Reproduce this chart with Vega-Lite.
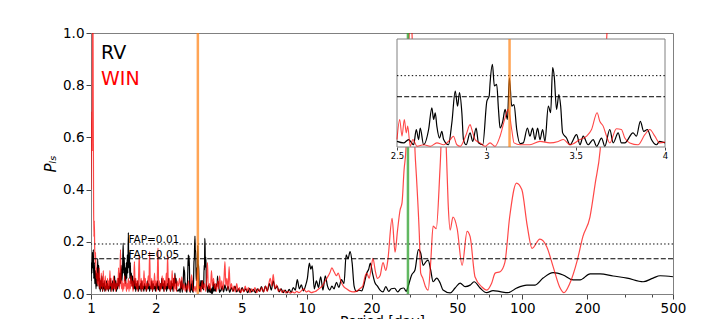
{
"$schema": "https://vega.github.io/schema/vega-lite/v6.json",
"width": 582, "height": 261,
"autosize": "none",
"padding": {"left": 91, "top": 33, "right": 28, "bottom": 25},
"config": {
  "font": "DejaVu Sans",
  "view": {"stroke": "#808080", "strokeWidth": 1},
  "axis": {"grid": false, "domainColor": "#808080", "tickColor": "#444", "labelColor": "black", "titleColor": "black", "labelFont": "DejaVu Sans", "titleFont": "DejaVu Sans"}
},
"datasets": {
"rv": [
{"p":1.000,"v":0.05},{"p":1.005,"v":0.12},{"p":1.010,"v":0.08},{"p":1.015,"v":0.16},{"p":1.020,"v":0.10},{"p":1.025,"v":0.17},{"p":1.030,"v":0.06},{"p":1.036,"v":0.12},{"p":1.042,"v":0.04},{"p":1.048,"v":0.09},{"p":1.055,"v":0.02},{"p":1.062,"v":0.08},{"p":1.068,"v":0.03},{"p":1.074,"v":0.137},{"p":1.080,"v":0.05},{"p":1.086,"v":0.11},{"p":1.092,"v":0.02},{"p":1.098,"v":0.06},{"p":1.104,"v":0.01},{"p":1.110,"v":0.05},{"p":1.117,"v":0.02},{"p":1.124,"v":0.07},{"p":1.131,"v":0.01},{"p":1.138,"v":0.04},{"p":1.145,"v":0.02},{"p":1.152,"v":0.05},{"p":1.159,"v":0.01},{"p":1.166,"v":0.03},{"p":1.173,"v":0.015},{"p":1.180,"v":0.05},{"p":1.188,"v":0.02},{"p":1.196,"v":0.04},{"p":1.204,"v":0.01},{"p":1.212,"v":0.03},{"p":1.220,"v":0.02},{"p":1.228,"v":0.06},{"p":1.236,"v":0.01},{"p":1.244,"v":0.04},{"p":1.252,"v":0.02},{"p":1.260,"v":0.05},{"p":1.268,"v":0.01},{"p":1.277,"v":0.03},{"p":1.286,"v":0.07},{"p":1.295,"v":0.02},{"p":1.304,"v":0.05},{"p":1.313,"v":0.01},{"p":1.322,"v":0.04},{"p":1.331,"v":0.02},{"p":1.340,"v":0.06},{"p":1.350,"v":0.03},{"p":1.360,"v":0.08},{"p":1.370,"v":0.04},{"p":1.380,"v":0.11},{"p":1.390,"v":0.05},{"p":1.400,"v":0.09},{"p":1.410,"v":0.195},{"p":1.418,"v":0.08},{"p":1.426,"v":0.14},{"p":1.434,"v":0.05},{"p":1.442,"v":0.10},{"p":1.450,"v":0.04},{"p":1.458,"v":0.12},{"p":1.466,"v":0.06},{"p":1.474,"v":0.15},{"p":1.482,"v":0.08},{"p":1.490,"v":0.235},{"p":1.498,"v":0.10},{"p":1.506,"v":0.16},{"p":1.514,"v":0.06},{"p":1.522,"v":0.12},{"p":1.530,"v":0.04},{"p":1.540,"v":0.08},{"p":1.550,"v":0.03},{"p":1.560,"v":0.07},{"p":1.570,"v":0.02},{"p":1.580,"v":0.05},{"p":1.590,"v":0.02},{"p":1.600,"v":0.06},{"p":1.612,"v":0.01},{"p":1.624,"v":0.04},{"p":1.636,"v":0.02},{"p":1.648,"v":0.05},{"p":1.660,"v":0.01},{"p":1.672,"v":0.03},{"p":1.684,"v":0.02},{"p":1.696,"v":0.04},{"p":1.708,"v":0.01},{"p":1.720,"v":0.05},{"p":1.732,"v":0.02},{"p":1.745,"v":0.03},{"p":1.758,"v":0.01},{"p":1.771,"v":0.04},{"p":1.784,"v":0.02},{"p":1.797,"v":0.03},{"p":1.810,"v":0.01},{"p":1.825,"v":0.05},{"p":1.840,"v":0.02},{"p":1.855,"v":0.04},{"p":1.870,"v":0.01},{"p":1.885,"v":0.03},{"p":1.900,"v":0.02},{"p":1.915,"v":0.05},{"p":1.930,"v":0.01},{"p":1.945,"v":0.04},{"p":1.960,"v":0.02},{"p":1.975,"v":0.03},{"p":1.990,"v":0.01},{"p":2.005,"v":0.04},{"p":2.020,"v":0.02},{"p":2.035,"v":0.05},{"p":2.050,"v":0.015},{"p":2.066,"v":0.03},{"p":2.082,"v":0.01},{"p":2.098,"v":0.04},{"p":2.114,"v":0.02},{"p":2.130,"v":0.06},{"p":2.146,"v":0.02},{"p":2.162,"v":0.04},{"p":2.178,"v":0.01},{"p":2.194,"v":0.05},{"p":2.210,"v":0.02},{"p":2.226,"v":0.03},{"p":2.242,"v":0.01},{"p":2.258,"v":0.04},{"p":2.274,"v":0.02},{"p":2.290,"v":0.06},{"p":2.306,"v":0.02},{"p":2.322,"v":0.03},{"p":2.338,"v":0.01},{"p":2.354,"v":0.05},{"p":2.370,"v":0.02},{"p":2.386,"v":0.04},{"p":2.402,"v":0.01},{"p":2.418,"v":0.06},{"p":2.434,"v":0.03},{"p":2.450,"v":0.08},{"p":2.466,"v":0.04},{"p":2.482,"v":0.06},
{"p":2.500,"v":0.015},{"p":2.537,"v":0.011},{"p":2.565,"v":0.020},{"p":2.593,"v":0.006},{"p":2.608,"v":0.047},{"p":2.621,"v":0.020},{"p":2.630,"v":0.051},{"p":2.649,"v":0.006},{"p":2.677,"v":0.047},{"p":2.695,"v":0.105},{"p":2.705,"v":0.074},{"p":2.714,"v":0.092},{"p":2.723,"v":0.056},{"p":2.738,"v":0.024},{"p":2.751,"v":0.042},{"p":2.761,"v":0.020},{"p":2.788,"v":0.006},{"p":2.807,"v":0.065},{"p":2.826,"v":0.150},{"p":2.839,"v":0.110},{"p":2.850,"v":0.146},{"p":2.863,"v":0.092},{"p":2.872,"v":0.020},{"p":2.887,"v":0.006},{"p":2.909,"v":0.038},{"p":2.924,"v":0.015},{"p":2.943,"v":0.051},{"p":2.956,"v":0.011},{"p":2.980,"v":0.006},{"p":3.003,"v":0.123},{"p":3.016,"v":0.137},{"p":3.021,"v":0.172},{"p":3.034,"v":0.222},{"p":3.045,"v":0.164},{"p":3.058,"v":0.168},{"p":3.068,"v":0.101},{"p":3.077,"v":0.051},{"p":3.092,"v":0.069},{"p":3.105,"v":0.101},{"p":3.118,"v":0.074},{"p":3.129,"v":0.186},{"p":3.142,"v":0.110},{"p":3.155,"v":0.114},{"p":3.170,"v":0.047},{"p":3.189,"v":0.009},{"p":3.207,"v":0.011},{"p":3.230,"v":0.051},{"p":3.244,"v":0.029},{"p":3.259,"v":0.051},{"p":3.272,"v":0.020},{"p":3.287,"v":0.051},{"p":3.300,"v":0.020},{"p":3.315,"v":0.047},{"p":3.328,"v":0.015},{"p":3.347,"v":0.110},{"p":3.360,"v":0.092},{"p":3.371,"v":0.213},{"p":3.380,"v":0.190},{"p":3.393,"v":0.101},{"p":3.406,"v":0.141},{"p":3.416,"v":0.110},{"p":3.427,"v":0.038},{"p":3.449,"v":0.024},{"p":3.468,"v":0.006},{"p":3.505,"v":0.033},{"p":3.524,"v":0.006},{"p":3.542,"v":0.029},{"p":3.570,"v":0.006},{"p":3.598,"v":0.020},{"p":3.617,"v":0.002},{"p":3.645,"v":0.024},{"p":3.663,"v":0.002},{"p":3.691,"v":0.047},{"p":3.710,"v":0.011},{"p":3.738,"v":0.038},{"p":3.756,"v":0.011},{"p":3.775,"v":0.011},{"p":3.821,"v":0.038},{"p":3.840,"v":0.029},{"p":3.862,"v":0.069},{"p":3.881,"v":0.042},{"p":3.901,"v":0.047},{"p":3.924,"v":0.020},{"p":3.952,"v":0.006},{"p":3.970,"v":0.015},{"p":4.000,"v":0.011},
{"p":4.06,"v":0.03},{"p":4.12,"v":0.008},{"p":4.18,"v":0.035},{"p":4.25,"v":0.012},{"p":4.32,"v":0.03},{"p":4.40,"v":0.006},{"p":4.48,"v":0.025},{"p":4.56,"v":0.01},{"p":4.65,"v":0.03},{"p":4.74,"v":0.008},{"p":4.83,"v":0.02},{"p":4.92,"v":0.005},{"p":5.02,"v":0.025},{"p":5.12,"v":0.01},{"p":5.22,"v":0.02},{"p":5.33,"v":0.005},{"p":5.44,"v":0.022},{"p":5.55,"v":0.008},{"p":5.67,"v":0.018},{"p":5.79,"v":0.005},{"p":5.91,"v":0.02},{"p":6.04,"v":0.01},{"p":6.17,"v":0.028},{"p":6.30,"v":0.008},{"p":6.44,"v":0.03},{"p":6.58,"v":0.012},{"p":6.72,"v":0.04},{"p":6.86,"v":0.015},{"p":7.00,"v":0.05},{"p":7.15,"v":0.02},{"p":7.30,"v":0.03},{"p":7.46,"v":0.008},{"p":7.62,"v":0.02},{"p":7.78,"v":0.005},{"p":7.95,"v":0.015},{"p":8.12,"v":0.004},{"p":8.30,"v":0.018},{"p":8.48,"v":0.006},{"p":8.67,"v":0.025},{"p":8.86,"v":0.015},{"p":9.05,"v":0.055},{"p":9.25,"v":0.02},{"p":9.45,"v":0.035},{"p":9.66,"v":0.012},{"p":9.87,"v":0.03},{"p":10.08,"v":0.06},{"p":10.30,"v":0.118},{"p":10.45,"v":0.095},{"p":10.62,"v":0.108},{"p":10.85,"v":0.02},{"p":11.10,"v":0.05},{"p":11.35,"v":0.025},{"p":11.62,"v":0.066},{"p":11.90,"v":0.015},{"p":12.20,"v":0.07},{"p":12.50,"v":0.03},{"p":12.80,"v":0.015},{"p":13.10,"v":0.03},{"p":13.40,"v":0.02},{"p":13.75,"v":0.045},{"p":14.10,"v":0.025},{"p":14.50,"v":0.055},{"p":14.90,"v":0.04},{"p":15.25,"v":0.15},{"p":15.55,"v":0.135},{"p":15.90,"v":0.162},{"p":16.25,"v":0.12},{"p":16.60,"v":0.03},{"p":17.00,"v":0.01},{"p":17.50,"v":0.015},{"p":18.00,"v":0.012},{"p":18.50,"v":0.04},{"p":19.00,"v":0.08},{"p":19.40,"v":0.095},{"p":19.75,"v":0.118},{"p":20.20,"v":0.08},{"p":20.70,"v":0.045},{"p":21.30,"v":0.03},{"p":21.90,"v":0.015},{"p":22.60,"v":0.008},{"p":23.30,"v":0.028},{"p":24.00,"v":0.01},{"p":24.70,"v":0.02},{"p":25.60,"v":0.022},{"p":26.40,"v":0.008},{"p":27.30,"v":0.02},{"p":28.20,"v":0.023},{"p":29.00,"v":0.01},{"p":29.50,"v":0.027},{"p":30.70,"v":0.073},{"p":31.80,"v":0.092},{"p":33.00,"v":0.17},{"p":33.80,"v":0.157},{"p":34.70,"v":0.11},{"p":35.80,"v":0.124},{"p":36.60,"v":0.13},{"p":37.60,"v":0.092},{"p":38.60,"v":0.047},{"p":40.10,"v":0.061},{"p":41.60,"v":0.042},{"p":42.90,"v":0.015},{"p":46.30,"v":0.004},{"p":48.80,"v":0.023},{"p":51.50,"v":0.042},{"p":54.30,"v":0.028},{"p":57.30,"v":0.034},{"p":59.80,"v":0.047},{"p":63.70,"v":0.023},{"p":68.40,"v":0.005},{"p":73.20,"v":0.013},{"p":78.90,"v":0.009},{"p":85.90,"v":0.005},{"p":94.30,"v":0.023},{"p":105.0,"v":0.034},{"p":114.7,"v":0.034},{"p":124.9,"v":0.061},{"p":139.0,"v":0.082},{"p":154.6,"v":0.073},{"p":172.0,"v":0.054},{"p":185.4,"v":0.054},{"p":206.3,"v":0.077},{"p":229.6,"v":0.077},{"p":263.8,"v":0.069},{"p":306.3,"v":0.061},{"p":363.4,"v":0.047},{"p":404.4,"v":0.061},{"p":435.7,"v":0.070},{"p":500.0,"v":0.066}
],
"win": [
{"p":1.000,"v":0.40},{"p":1.004,"v":0.55},{"p":1.008,"v":0.70},{"p":1.012,"v":0.55},{"p":1.016,"v":1.05},{"p":1.020,"v":1.2},{"p":1.024,"v":0.75},{"p":1.028,"v":0.35},{"p":1.032,"v":0.22},{"p":1.036,"v":0.28},{"p":1.040,"v":0.18},{"p":1.045,"v":0.12},{"p":1.050,"v":0.16},{"p":1.056,"v":0.06},{"p":1.062,"v":0.10},{"p":1.068,"v":0.04},{"p":1.074,"v":0.08},{"p":1.080,"v":0.03},{"p":1.086,"v":0.06},{"p":1.092,"v":0.10},{"p":1.098,"v":0.02},{"p":1.104,"v":0.05},{"p":1.110,"v":0.02},{"p":1.116,"v":0.08},{"p":1.122,"v":0.03},{"p":1.128,"v":0.06},{"p":1.134,"v":0.01},{"p":1.140,"v":0.09},{"p":1.146,"v":0.03},{"p":1.152,"v":0.05},{"p":1.158,"v":0.02},{"p":1.165,"v":0.07},{"p":1.172,"v":0.01},{"p":1.179,"v":0.04},{"p":1.186,"v":0.02},{"p":1.193,"v":0.06},{"p":1.200,"v":0.015},{"p":1.208,"v":0.05},{"p":1.216,"v":0.02},{"p":1.224,"v":0.09},{"p":1.232,"v":0.03},{"p":1.240,"v":0.06},{"p":1.248,"v":0.01},{"p":1.256,"v":0.04},{"p":1.264,"v":0.02},{"p":1.272,"v":0.07},{"p":1.280,"v":0.02},{"p":1.289,"v":0.05},{"p":1.298,"v":0.01},{"p":1.307,"v":0.04},{"p":1.316,"v":0.02},{"p":1.325,"v":0.06},{"p":1.334,"v":0.03},{"p":1.343,"v":0.10},{"p":1.352,"v":0.02},{"p":1.361,"v":0.05},{"p":1.370,"v":0.17},{"p":1.378,"v":0.06},{"p":1.386,"v":0.02},{"p":1.395,"v":0.05},{"p":1.404,"v":0.01},{"p":1.413,"v":0.04},{"p":1.422,"v":0.02},{"p":1.431,"v":0.07},{"p":1.440,"v":0.03},{"p":1.450,"v":0.05},{"p":1.460,"v":0.01},{"p":1.470,"v":0.04},{"p":1.480,"v":0.02},{"p":1.490,"v":0.06},{"p":1.500,"v":0.01},{"p":1.511,"v":0.05},{"p":1.522,"v":0.02},{"p":1.533,"v":0.07},{"p":1.544,"v":0.03},{"p":1.555,"v":0.05},{"p":1.566,"v":0.01},{"p":1.578,"v":0.04},{"p":1.590,"v":0.124},{"p":1.602,"v":0.03},{"p":1.614,"v":0.06},{"p":1.626,"v":0.02},{"p":1.638,"v":0.05},{"p":1.650,"v":0.01},{"p":1.662,"v":0.07},{"p":1.674,"v":0.15},{"p":1.686,"v":0.04},{"p":1.698,"v":0.02},{"p":1.710,"v":0.06},{"p":1.722,"v":0.01},{"p":1.735,"v":0.05},{"p":1.748,"v":0.02},{"p":1.761,"v":0.09},{"p":1.774,"v":0.03},{"p":1.787,"v":0.06},{"p":1.800,"v":0.01},{"p":1.814,"v":0.04},{"p":1.828,"v":0.02},{"p":1.842,"v":0.07},{"p":1.856,"v":0.03},{"p":1.870,"v":0.162},{"p":1.884,"v":0.04},{"p":1.898,"v":0.02},{"p":1.912,"v":0.06},{"p":1.926,"v":0.01},{"p":1.940,"v":0.05},{"p":1.955,"v":0.02},{"p":1.970,"v":0.08},{"p":1.985,"v":0.03},{"p":2.000,"v":0.05},{"p":2.015,"v":0.01},{"p":2.030,"v":0.06},{"p":2.045,"v":0.176},{"p":2.060,"v":0.03},{"p":2.075,"v":0.05},{"p":2.090,"v":0.01},{"p":2.106,"v":0.04},{"p":2.122,"v":0.02},{"p":2.138,"v":0.07},{"p":2.154,"v":0.03},{"p":2.170,"v":0.06},{"p":2.186,"v":0.01},{"p":2.202,"v":0.05},{"p":2.218,"v":0.02},{"p":2.234,"v":0.08},{"p":2.250,"v":0.03},{"p":2.266,"v":0.15},{"p":2.282,"v":0.04},{"p":2.298,"v":0.02},{"p":2.314,"v":0.06},{"p":2.330,"v":0.01},{"p":2.346,"v":0.05},{"p":2.362,"v":0.02},{"p":2.378,"v":0.09},{"p":2.394,"v":0.03},{"p":2.410,"v":0.06},{"p":2.426,"v":0.01},{"p":2.442,"v":0.073},{"p":2.458,"v":0.02},{"p":2.474,"v":0.04},{"p":2.490,"v":0.01},
{"p":2.506,"v":0.05},{"p":2.540,"v":0.03},{"p":2.575,"v":0.06},{"p":2.610,"v":0.02},{"p":2.635,"v":0.066},{"p":2.665,"v":0.015},{"p":2.700,"v":0.04},{"p":2.735,"v":0.01},{"p":2.770,"v":0.035},{"p":2.800,"v":0.015},{"p":2.830,"v":0.05},{"p":2.860,"v":0.01},{"p":2.895,"v":0.04},{"p":2.930,"v":0.073},{"p":2.965,"v":0.02},{"p":3.000,"v":0.01},{"p":3.035,"v":0.03},{"p":3.070,"v":0.008},{"p":3.105,"v":0.06},{"p":3.130,"v":0.10},{"p":3.160,"v":0.02},{"p":3.200,"v":0.03},{"p":3.240,"v":0.008},{"p":3.280,"v":0.05},{"p":3.320,"v":0.02},{"p":3.360,"v":0.04},{"p":3.400,"v":0.01},{"p":3.440,"v":0.06},{"p":3.470,"v":0.12},{"p":3.500,"v":0.02},{"p":3.540,"v":0.04},{"p":3.580,"v":0.015},{"p":3.620,"v":0.09},{"p":3.660,"v":0.03},{"p":3.700,"v":0.06},{"p":3.740,"v":0.02},{"p":3.780,"v":0.04},{"p":3.820,"v":0.01},{"p":3.870,"v":0.05},{"p":3.910,"v":0.02},{"p":3.950,"v":0.07},{"p":4.000,"v":0.02},
{"p":4.04,"v":0.05},{"p":4.09,"v":0.015},{"p":4.14,"v":0.06},{"p":4.18,"v":0.124},{"p":4.22,"v":0.03},{"p":4.27,"v":0.06},{"p":4.32,"v":0.015},{"p":4.37,"v":0.105},{"p":4.42,"v":0.02},{"p":4.48,"v":0.04},{"p":4.54,"v":0.01},{"p":4.60,"v":0.03},{"p":4.67,"v":0.008},{"p":4.74,"v":0.04},{"p":4.81,"v":0.01},{"p":4.88,"v":0.025},{"p":4.95,"v":0.005},{"p":5.03,"v":0.02},{"p":5.11,"v":0.008},{"p":5.19,"v":0.03},{"p":5.28,"v":0.01},{"p":5.37,"v":0.025},{"p":5.46,"v":0.005},{"p":5.56,"v":0.02},{"p":5.66,"v":0.01},{"p":5.76,"v":0.025},{"p":5.87,"v":0.005},{"p":5.98,"v":0.02},{"p":6.09,"v":0.01},{"p":6.20,"v":0.025},{"p":6.32,"v":0.008},{"p":6.44,"v":0.03},{"p":6.56,"v":0.01},{"p":6.68,"v":0.04},{"p":6.78,"v":0.06},{"p":6.90,"v":0.03},{"p":7.00,"v":0.075},{"p":7.12,"v":0.02},{"p":7.25,"v":0.035},{"p":7.40,"v":0.01},{"p":7.55,"v":0.02},{"p":7.70,"v":0.006},{"p":7.85,"v":0.015},{"p":8.00,"v":0.004},{"p":8.20,"v":0.01},{"p":8.40,"v":0.003},{"p":8.60,"v":0.008},{"p":8.80,"v":0.004},{"p":9.00,"v":0.01},{"p":9.20,"v":0.005},{"p":9.45,"v":0.012},{"p":9.70,"v":0.02},{"p":9.95,"v":0.008},{"p":10.2,"v":0.012},{"p":10.5,"v":0.005},{"p":10.8,"v":0.008},{"p":11.1,"v":0.012},{"p":11.4,"v":0.02},{"p":11.8,"v":0.03},{"p":12.1,"v":0.045},{"p":12.4,"v":0.06},{"p":12.8,"v":0.08},{"p":13.1,"v":0.10},{"p":13.4,"v":0.085},{"p":13.75,"v":0.07},{"p":14.0,"v":0.08},{"p":14.4,"v":0.05},{"p":14.8,"v":0.03},{"p":15.3,"v":0.02},{"p":15.8,"v":0.012},{"p":16.4,"v":0.008},{"p":17.0,"v":0.01},{"p":17.6,"v":0.02},{"p":18.2,"v":0.03},{"p":18.7,"v":0.07},{"p":19.0,"v":0.08},{"p":19.5,"v":0.06},{"p":20.0,"v":0.11},{"p":20.3,"v":0.137},{"p":20.8,"v":0.09},{"p":21.3,"v":0.06},{"p":21.9,"v":0.07},{"p":22.6,"v":0.12},{"p":23.3,"v":0.09},{"p":23.8,"v":0.13},{"p":24.9,"v":0.29},{"p":25.7,"v":0.16},{"p":26.4,"v":0.245},{"p":27.1,"v":0.32},{"p":27.7,"v":0.35},{"p":28.3,"v":0.475},{"p":28.9,"v":0.56},{"p":29.6,"v":0.85},{"p":30.2,"v":1.1},{"p":30.8,"v":1.0},{"p":31.8,"v":0.55},{"p":32.3,"v":0.45},{"p":33.3,"v":0.23},{"p":33.8,"v":0.08},{"p":34.6,"v":0.06},{"p":35.5,"v":0.03},{"p":36.6,"v":0.015},{"p":37.6,"v":0.12},{"p":38.6,"v":0.26},{"p":39.9,"v":0.25},{"p":41.6,"v":0.49},{"p":43.1,"v":0.75},{"p":44.4,"v":0.56},{"p":45.3,"v":0.35},{"p":46.3,"v":0.245},{"p":47.7,"v":0.295},{"p":49.9,"v":0.25},{"p":52.6,"v":0.11},{"p":55.5,"v":0.24},{"p":57.3,"v":0.22},{"p":60.4,"v":0.065},{"p":65.0,"v":0.027},{"p":68.5,"v":0.015},{"p":72.0,"v":0.04},{"p":74.9,"v":0.08},{"p":78.9,"v":0.085},{"p":83.0,"v":0.12},{"p":87.4,"v":0.295},{"p":94.0,"v":0.425},{"p":99.5,"v":0.40},{"p":105.5,"v":0.26},{"p":111.0,"v":0.175},{"p":120.7,"v":0.21},{"p":130.0,"v":0.18},{"p":139.0,"v":0.105},{"p":149.0,"v":0.027},{"p":156.0,"v":0.005},{"p":166.0,"v":0.04},{"p":180.0,"v":0.13},{"p":191.0,"v":0.22},{"p":206.0,"v":0.295},{"p":218.0,"v":0.425},{"p":229.6,"v":0.55},{"p":247.0,"v":1.0},{"p":265.0,"v":1.5},{"p":300.0,"v":2.0},{"p":400.0,"v":2.5},{"p":500.0,"v":3.0}
],
"winIn": [
{"p":2.500,"v":0.020},{"p":2.515,"v":0.074},{"p":2.528,"v":0.029},{"p":2.541,"v":0.074},{"p":2.552,"v":0.038},{"p":2.560,"v":0.056},{"p":2.574,"v":0.002},{"p":2.589,"v":0.020},{"p":2.612,"v":0.002},{"p":2.649,"v":0.006},{"p":2.686,"v":0.002},{"p":2.723,"v":0.011},{"p":2.761,"v":0.006},{"p":2.798,"v":0.020},{"p":2.816,"v":0.029},{"p":2.835,"v":0.006},{"p":2.854,"v":0.002},{"p":2.887,"v":0.033},{"p":2.909,"v":0.060},{"p":2.919,"v":0.047},{"p":2.937,"v":0.020},{"p":2.965,"v":0.011},{"p":2.993,"v":0.002},{"p":3.021,"v":0.011},{"p":3.049,"v":0.002},{"p":3.077,"v":0.029},{"p":3.105,"v":0.078},{"p":3.123,"v":0.101},{"p":3.142,"v":0.047},{"p":3.155,"v":0.011},{"p":3.189,"v":0.006},{"p":3.244,"v":0.006},{"p":3.300,"v":0.015},{"p":3.356,"v":0.011},{"p":3.403,"v":0.015},{"p":3.431,"v":0.020},{"p":3.468,"v":0.006},{"p":3.524,"v":0.020},{"p":3.561,"v":0.029},{"p":3.589,"v":0.047},{"p":3.620,"v":0.092},{"p":3.635,"v":0.069},{"p":3.654,"v":0.056},{"p":3.673,"v":0.029},{"p":3.691,"v":0.011},{"p":3.728,"v":0.049},{"p":3.756,"v":0.047},{"p":3.775,"v":0.024},{"p":3.803,"v":0.011},{"p":3.849,"v":0.006},{"p":3.887,"v":0.033},{"p":3.915,"v":0.047},{"p":3.943,"v":0.029},{"p":3.970,"v":0.011},{"p":4.000,"v":0.013}
]
},
"layer": [
{
"layer": [
{"data": {"name": "rv"},
 "mark": {"type": "line", "color": "black", "strokeWidth": 1.2, "clip": true, "interpolate": "monotone"},
 "encoding": {
  "x": {"field": "p", "type": "quantitative", "title": "Period [day]",
        "scale": {"type": "log", "domain": [1, 500], "nice": false},
        "axis": {"values": [1,2,3,4,5,6,7,8,9,10,20,30,40,50,60,70,80,90,100,200,300,400,500],
                 "format": "~g",
                 "labelExpr": "indexof([1,2,5,10,20,50,100,200,500], datum.value) >= 0 ? datum.label : ''",
                 "tickSize": {"condition": {"test": "indexof([1,2,5,10,20,50,100,200,500], datum.value) >= 0", "value": 5}, "value": 3},
                 "labelFontSize": 13.5, "labelPadding": 2, "labelFlush": false, "labelOverlap": false,
                 "titleFontSize": 14, "titleFontWeight": "normal", "titlePadding": 0}},
  "y": {"field": "v", "type": "quantitative", "title": "Pₗₛ",
        "scale": {"domain": [0, 1], "nice": false},
        "axis": {"values": [0,0.2,0.4,0.6,0.8,1], "format": ".1f", "labelFontSize": 13.5, "tickSize": 5, "labelPadding": 2,
                 "titleFontSize": 15, "titleFontStyle": "italic", "titleFontWeight": "normal", "titlePadding": 4}}
 }},
{"data": {"name": "win"},
 "mark": {"type": "line", "color": "red", "opacity": 0.72, "strokeWidth": 1.2, "clip": true, "interpolate": "monotone"},
 "encoding": {"x": {"field": "p", "type": "quantitative"}, "y": {"field": "v", "type": "quantitative"}}},
{"data": {"values": [{}]},
 "mark": {"type": "rule", "color": "black", "strokeWidth": 1, "strokeDash": [1.4, 2.3]},
 "encoding": {"y": {"datum": 0.1916}}},
{"data": {"values": [{}]},
 "mark": {"type": "rule", "color": "black", "strokeWidth": 1, "strokeDash": [5, 2.2]},
 "encoding": {"y": {"datum": 0.135}}},
{"data": {"values": [{}]},
 "mark": {"type": "rule", "color": "#ff7f0e", "opacity": 0.7, "strokeWidth": 2.5},
 "encoding": {"x": {"datum": 3.13}}},
{"data": {"values": [{}]},
 "mark": {"type": "rule", "color": "#2ca02c", "opacity": 0.75, "strokeWidth": 2.5},
 "encoding": {"x": {"datum": 29.5}}},
{"data": {"values": [{}]},
 "mark": {"type": "text", "text": "RV", "fontSize": 19, "align": "left", "baseline": "alphabetic", "color": "black"},
 "encoding": {"x": {"datum": 1.113}, "y": {"datum": 0.9}}},
{"data": {"values": [{}]},
 "mark": {"type": "text", "text": "WIN", "fontSize": 19, "align": "left", "baseline": "alphabetic", "color": "red"},
 "encoding": {"x": {"datum": 1.113}, "y": {"datum": 0.8}}},
{"data": {"values": [{}]},
 "mark": {"type": "text", "text": "FAP=0.01", "fontSize": 10.5, "align": "left", "baseline": "alphabetic", "color": "black"},
 "encoding": {"x": {"datum": 1.492}, "y": {"datum": 0.194}}},
{"data": {"values": [{}]},
 "mark": {"type": "text", "text": "FAP=0.05", "fontSize": 10.5, "align": "left", "baseline": "alphabetic", "color": "black"},
 "encoding": {"x": {"datum": 1.492}, "y": {"datum": 0.138}}}
]
},
{
"layer": [
{"data": {"values": [{}]},
 "mark": {"type": "rect", "fill": "white", "stroke": "#808080", "strokeWidth": 1},
 "encoding": {
  "x": {"datum": 2.5, "type": "quantitative",
        "scale": {"domain": [2.5, 4], "range": [306, 574], "nice": false, "zero": false},
        "axis": {"orient": "bottom", "offset": -147, "values": [2.5, 3, 3.5, 4], "format": "~g", "labelFontSize": 8.5,
                 "tickSize": 3, "labelPadding": 1, "labelFlush": false, "domain": false, "title": null}},
  "x2": {"datum": 4},
  "y": {"datum": 0, "type": "quantitative",
        "scale": {"domain": [0, 0.29], "range": [114, 6], "nice": false, "zero": false}, "axis": null},
  "y2": {"datum": 0.29}
 }},
{"data": {"name": "rv"},
 "transform": [{"filter": "datum.p >= 2.5 && datum.p <= 4"}],
 "mark": {"type": "line", "color": "black", "strokeWidth": 1.2, "interpolate": "monotone"},
 "encoding": {"x": {"field": "p", "type": "quantitative"}, "y": {"field": "v", "type": "quantitative"}}},
{"data": {"name": "winIn"},
 "mark": {"type": "line", "color": "red", "opacity": 0.72, "strokeWidth": 1.1, "interpolate": "monotone"},
 "encoding": {"x": {"field": "p", "type": "quantitative"}, "y": {"field": "v", "type": "quantitative"}}},
{"data": {"values": [{}]},
 "mark": {"type": "rule", "color": "black", "strokeWidth": 1, "strokeDash": [1.4, 2.3]},
 "encoding": {"x": {"datum": 2.5}, "x2": {"datum": 4}, "y": {"datum": 0.1916}}},
{"data": {"values": [{}]},
 "mark": {"type": "rule", "color": "black", "strokeWidth": 1, "strokeDash": [5, 2.2]},
 "encoding": {"x": {"datum": 2.5}, "x2": {"datum": 4}, "y": {"datum": 0.135}}},
{"data": {"values": [{}]},
 "mark": {"type": "rule", "color": "#ff7f0e", "opacity": 0.7, "strokeWidth": 2.5},
 "encoding": {"x": {"datum": 3.13}, "y": {"datum": 0}, "y2": {"datum": 0.29}}}
]
}
],
"resolve": {"scale": {"x": "independent", "y": "independent"}}
}
